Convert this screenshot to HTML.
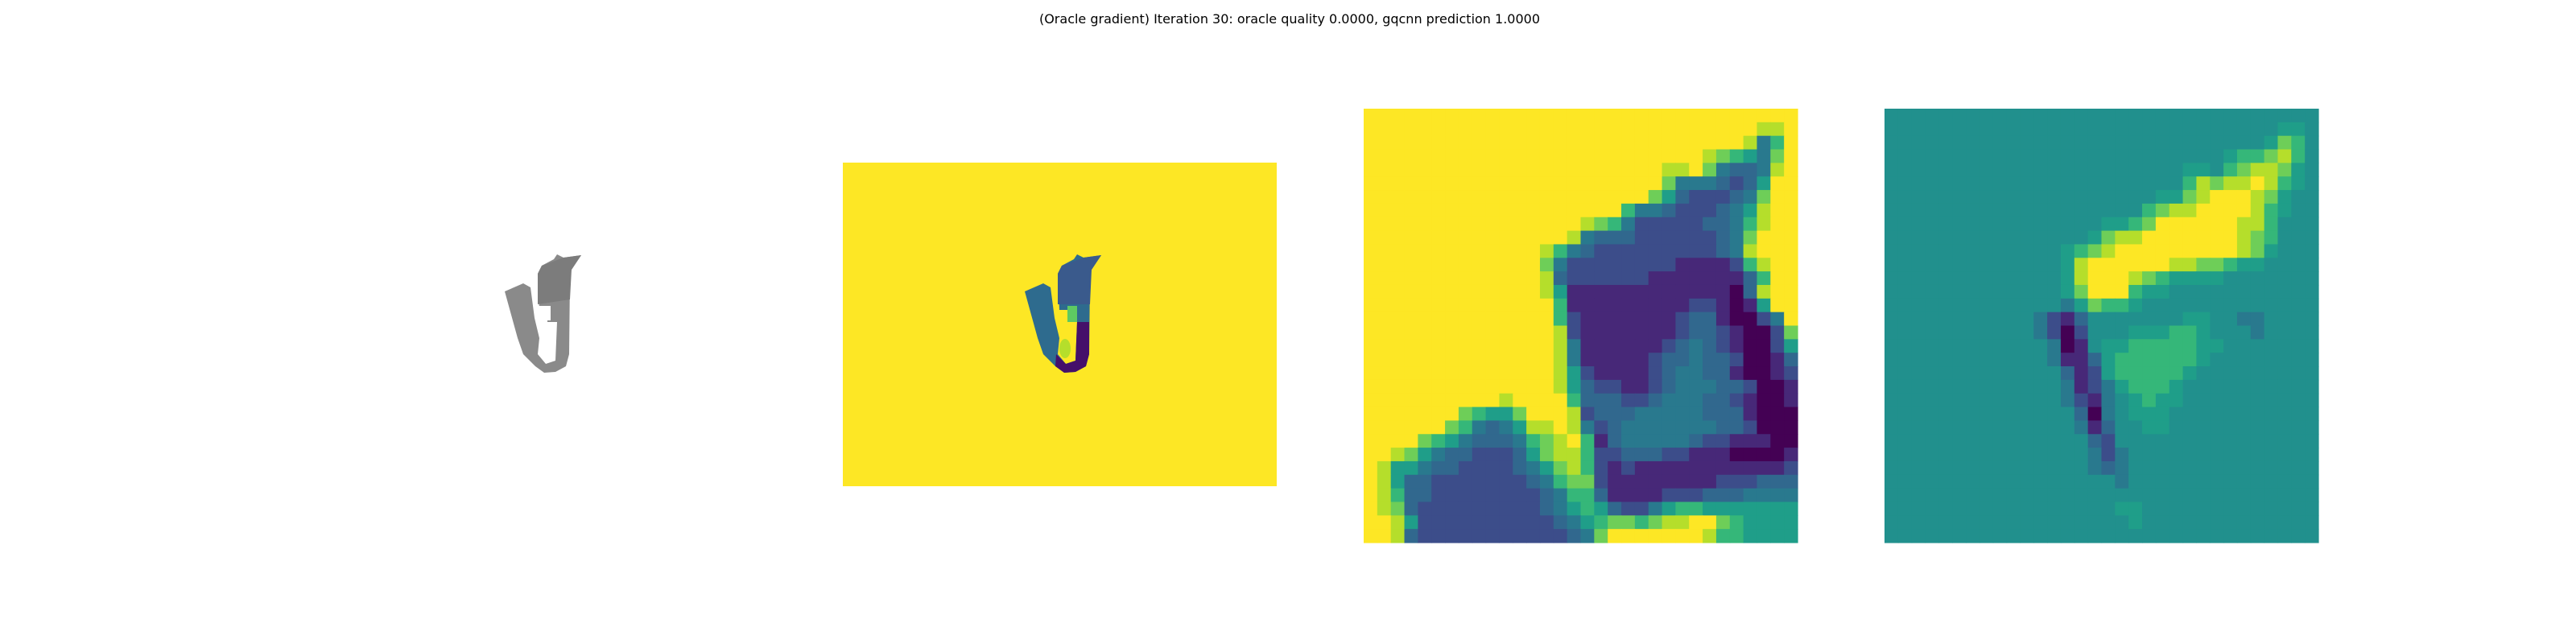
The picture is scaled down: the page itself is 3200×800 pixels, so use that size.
<!DOCTYPE html>
<html><head><meta charset="utf-8"><style>
html,body{margin:0;padding:0;background:#fff;width:3200px;height:800px;overflow:hidden}
svg{display:block}
</style></head><body>
<svg id="fig" width="3200" height="800" viewBox="0 0 3200 800" xmlns="http://www.w3.org/2000/svg">
<rect width="3200" height="800" fill="#ffffff"/>
<text x="1602" y="29" text-anchor="middle" font-family="DejaVu Sans, Liberation Sans, sans-serif" font-size="16" fill="#000">(Oracle gradient) Iteration 30: oracle quality 0.0000, gqcnn prediction 1.0000</text>

<g>
  <path d="M627,362 L650,352 L659,357 L664,395 L670,420 L668,440 L678,452 L690,448 L692,400 L680,400 L680,385 L670,385 L668,340 L673,330 L688,322 L692,316 L700,320 L722,317 L710,335 L708,345 L707,440 L703,455 L690,462 L676,463 L665,455 L650,440 L643,420 Z" fill="#8a8a8a"/>
  <path d="M673,330 L700,320 L722,317 L710,335 L708,372 L668,378 L668,340 Z" fill="#7c7c7c"/>
  <rect x="667" y="380" width="17" height="18" fill="#fff"/>
  <ellipse cx="677" cy="433" rx="7" ry="12" fill="#fff"/>
</g>

<g>
  <rect x="1047" y="202" width="539" height="402" fill="#fde725"/>
  <path d="M1273,362 L1296,352 L1305,357 L1310,395 L1316,420 L1314,440 L1324,452 L1336,448 L1338,400 L1326,400 L1326,385 L1316,385 L1314,340 L1319,330 L1334,322 L1338,316 L1346,320 L1368,317 L1356,335 L1354,345 L1353,440 L1349,455 L1336,462 L1322,463 L1311,455 L1296,440 L1289,420 Z" fill="#2e6b8e"/>
  <path d="M1312,440 L1324,452 L1336,448 L1338,400 L1353,400 L1353,440 L1349,455 L1336,462 L1322,463 L1311,455 Z" fill="#45106a"/>
  <path d="M1319,330 L1346,320 L1368,317 L1356,335 L1354,378 L1314,378 L1314,340 Z" fill="#3a5a8c"/>
  <rect x="1326" y="380" width="12" height="20" fill="#5ec962"/>
  <ellipse cx="1323" cy="433" rx="7" ry="12" fill="#b5de2b"/>
</g>

<g id="crop-panel"></g>
<g id="grad-panel"></g>
</svg>
<script>
const palette = {'0':'#440154','1':'#472878','2':'#3c4d8a','3':'#31688e','4':'#29798e','m':'#21908d','5':'#1f9e89','6':'#35b779','7':'#6ece58','8':'#b5de2b','9':'#fde725'};
const N = 9, M = 'm';
const cropRows = [
'9'.repeat(32),
'9'.repeat(29)+'889',
'9'.repeat(28)+'8469',
'9'.repeat(25)+'8765479',
'9'.repeat(21)+'98897433489',
'9'.repeat(21)+'97444323599',
'9'.repeat(20)+'975322234799',
'9'.repeat(18)+'96443222345899',
'9'.repeat(16)+'8764222223346899',
'9'.repeat(15)+'84333222222347999',
'9'.repeat(12)+'98643222222222348999',
'9'.repeat(12)+'97422222222111126899',
'9'.repeat(13)+'8322222211111113699',
'9'.repeat(13)+'85'+'111111111111'+'03899',
'9'.repeat(13)+'9611111111122101599',
'9'.repeat(13)+'9621111111233100249',
'9'.repeat(13)+'9821111111233210027',
'9'.repeat(14)+'841111112343210025',
'9'.repeat(14)+'841111123343320013',
'9'.repeat(13)+'9852111123443310012',
'9'.repeat(14)+'853221123444332001',
'9'.repeat(9)+'98999963332234443321001',
'9'.repeat(6)+'97655799982333444443331000',
'9'.repeat(5)+'97643458898'+'423'+'4444444'+'332000',
'9'.repeat(3)+'97654333467896134444432211100',
'99875433222357886223332211100001',
'98554332222345786212111111111112',
'98533222222234677211111111222333',
'98633222222223466311112223334444',
'98732222222223456532245665555555',
'99852222222222345677678899765555',
'99832222222222234799999998665555'
];
const gradRows = [
M.repeat(32),
M.repeat(29)+'55m',
M.repeat(28)+'576m',
M.repeat(25)+'566786m',
M.repeat(22)+'55m678875m',
M.repeat(21)+'m68788986 5m'.replace(' ',''),
M.repeat(20)+'55789998 75mm'.replace(' ','').slice(0,11)+'m',
M.repeat(18)+'m67889999865mm',
M.repeat(16)+'5567999999886mmm',
M.repeat(15)+'57889999999876mmm',
M.repeat(13)+'5678999999999875mmm',
M.repeat(13)+'589999998877655mmmm',
M.repeat(13)+'589998765555'+M.repeat(7),
M.repeat(13)+'57999655'+M.repeat(11),
M.repeat(13)+'457665'+M.repeat(13),
M.repeat(11)+'4213'+M.repeat(7)+'55mm44'+M.repeat(4),
M.repeat(11)+'4202'+'mmm'+'555665'+'mmm'+'4'+M.repeat(4),
M.repeat(12)+'401m555666665'.replace('555666665','556666655')+M.repeat(7),
M.repeat(12)+'411356666665'+M.repeat(8),
M.repeat(13)+'3125666665'+M.repeat(9),
M.repeat(13)+'412456665'+M.repeat(10),
M.repeat(13)+'4214m5655'+M.repeat(10),
M.repeat(14)+'304m555'+M.repeat(11),
M.repeat(14)+'413mm55'+M.repeat(11),
M.repeat(15)+'32'+M.repeat(15),
M.repeat(15)+'424'+M.repeat(14),
M.repeat(15)+'434'+M.repeat(14),
M.repeat(17)+'4'+M.repeat(14),
M.repeat(32),
M.repeat(17)+'55'+M.repeat(13),
M.repeat(17)+'m5'+M.repeat(13),
M.repeat(32)
];
const NS='http://www.w3.org/2000/svg';
function drawHeat(gid, rows, x0, y0, size){
  const g=document.getElementById(gid);
  const n=rows.length, cw=size/32, ch=size/n;
  rows.forEach((row,r)=>{
    for(let c=0;c<32;c++){
      const ch2=row[c]||M;
      const rect=document.createElementNS(NS,'rect');
      rect.setAttribute('x',(x0+c*cw).toFixed(2));
      rect.setAttribute('y',(y0+r*ch).toFixed(2));
      rect.setAttribute('width',(cw+0.6).toFixed(2));
      rect.setAttribute('height',(ch+0.6).toFixed(2));
      rect.setAttribute('fill',palette[ch2]||palette[M]);
      
      
      g.appendChild(rect);
    }
  });
}
drawHeat('crop-panel', cropRows, 1694, 135, 539);
drawHeat('grad-panel', gradRows, 2341, 135, 539);
</script>
</body></html>
